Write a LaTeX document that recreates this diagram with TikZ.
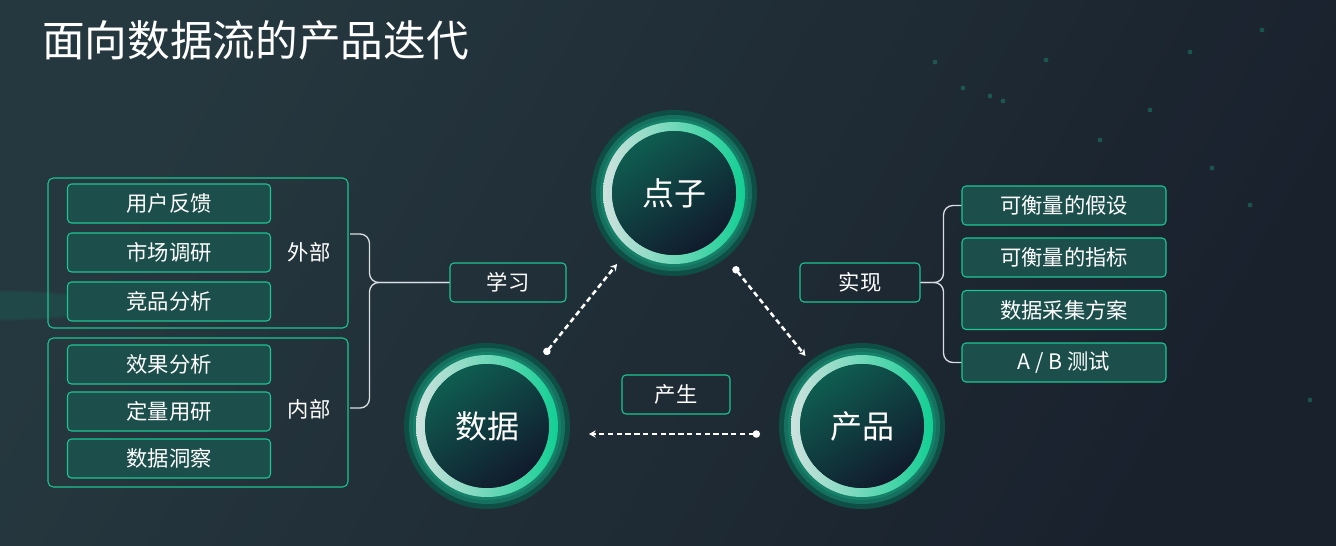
\documentclass[tikz,border=0pt]{standalone}
\usepackage{fontspec}
\setmainfont{Noto Sans CJK SC}
\usetikzlibrary{positioning,calc,arrows.meta,fadings}
\definecolor{bgdark}{HTML}{19212D}
\definecolor{bglight}{HTML}{26383F}
\definecolor{edgegreen}{HTML}{1CC693}
\definecolor{boxfill}{HTML}{1C4F4B}
\definecolor{ringlight}{HTML}{CFE1DE}
\definecolor{ringgreen}{HTML}{12CF93}
\definecolor{haloout}{HTML}{0F4E45}
\definecolor{haloin}{HTML}{15705F}
\definecolor{coretop}{HTML}{0F5D51}
\definecolor{corebot}{HTML}{111A2C}
\definecolor{bracegray}{HTML}{D8DEE2}
\tikzset{
	itembox/.style={draw=edgegreen,fill=boxfill,rounded corners=3pt,line width=0.8pt,minimum width=152.25pt,minimum height=29.25pt,inner sep=0pt,text=white,font=\fontsize{16}{18}\selectfont},
	groupbox/.style={draw=edgegreen,rounded corners=4pt,line width=0.8pt,minimum width=225pt,inner sep=0pt},
	tagbox/.style={draw=edgegreen,rounded corners=3pt,line width=0.8pt,minimum height=29.25pt,inner sep=0pt,text=white,font=\fontsize{16}{18}\selectfont},
	sidelabel/.style={text=white,font=\fontsize{16}{18}\selectfont},
	bubble/.style={circle,minimum size=124.5pt,inner sep=0pt,outer sep=0pt,text=white,font=\fontsize{24}{28}\selectfont},
	brace/.style={draw=bracegray,line width=1pt,rounded corners=7pt},
	flow/.style={white,line width=1.9pt,dash pattern=on 4pt off 2.6pt,{Circle[length=5.5pt]}-{Stealth[length=5pt,width=5.5pt]}}
}
\begin{document}
\begin{tikzpicture}[x=0.75pt,y=-0.75pt]
		% background
		\shade[top color=bglight,bottom color=bgdark,shading angle=60] (0,0) rectangle (1336,546);
		\useasboundingbox (0,0) rectangle (1336,546);
		\fill[haloin,path fading=circle with fuzzy edge 20 percent,opacity=0.3] (0,305) ellipse (110 and 16);
		\foreach \p in {(935,62),(963,88),(990,96),(1003,101),(1046,60),(1100,140),(1190,52),(1262,30),(1250,205),(1310,400),(1150,110),(1212,168)}
			\fill[edgegreen,opacity=0.3] \p circle (1.8pt);
		% title
		\node[anchor=west,inner sep=0pt,text=white,font=\fontsize{32}{36}\selectfont] (title) at (42,40) {面向数据流的产品迭代};
		% circles
		\foreach \p in {(674,193),(487,426),(862,426)} {
			\fill[haloout] \p circle (62.25pt);
			\fill[haloin] \p circle (58.5pt);
			\fill[haloin!80!edgegreen] \p circle (55.5pt);
			\shade[even odd rule,left color=ringlight,right color=ringgreen] \p circle (53.25pt) circle (46.5pt);
			\shade[top color=coretop,bottom color=corebot,shading angle=35] \p circle (46.5pt);
		}
		\node[bubble] (dianzi) at (674,193) {点子};
		\node[bubble] (shuju) at (487,426) {数据};
		\node[bubble] (chanpin) at (862,426) {产品};
		% left groups
		\node[groupbox,minimum height=112.5pt] (waibox) at (198,253) {};
		\node[groupbox,minimum height=111.75pt] (neibox) at (198,412.5) {};
		\node[itembox] (fankui) at (169,203.5) {用户反馈};
		\node[itembox] (diaoyan) at (169,252.5) {市场调研};
		\node[itembox] (jingpin) at (169,301.5) {竞品分析};
		\node[itembox] (xiaoguo) at (169,364.5) {效果分析};
		\node[itembox] (dingliang) at (169,411.5) {定量用研};
		\node[itembox] (dongcha) at (169,458.5) {数据洞察};
		\node[sidelabel] (waibu) at (309,252) {外部};
		\node[sidelabel] (neibu) at (309,409) {内部};
		% tags
		\node[tagbox,minimum width=87pt] (xuexi) at (508,282.5) {学习};
		\node[tagbox,minimum width=90pt] (shixian) at (860,282.5) {实现};
		\node[tagbox,minimum width=81pt] (chansheng) at (676,394.5) {产生};
		% right items
		\node[itembox,minimum width=153pt] (jiashe) at (1064,205.5) {可衡量的假设};
		\node[itembox,minimum width=153pt] (zhibiao) at (1064,257.5) {可衡量的指标};
		\node[itembox,minimum width=153pt] (fangan) at (1064,310) {数据采集方案};
		\node[itembox,minimum width=153pt] (abtest) at (1064,362.5) {A / B 测试};
		% braces
		\coordinate (wtop) at (350,234);
		\coordinate (wbot) at (350,408);
		\draw[brace] (wtop) -| ([xshift=-60pt]xuexi.west) -- (xuexi.west);
		\draw[brace] (wbot) -| ([xshift=-60pt]xuexi.west) -- (xuexi.west);
		\draw[brace] (jiashe.west) -| ([xshift=17.25pt]shixian.east) -- (shixian.east);
		\draw[brace] (abtest.west) -| ([xshift=17.25pt]shixian.east) -- (shixian.east);
		% cycle
		\draw[flow,shorten <=6.75pt,shorten >=6pt] (shuju) -- (dianzi);
		\draw[flow,shorten <=9pt,shorten >=5.25pt] (dianzi) -- (chanpin);
		\draw[flow,shorten <=14.25pt,shorten >=14.25pt] ([yshift=-6pt]chanpin.west) -- ([yshift=-6pt]shuju.east);
	\end{tikzpicture}
\end{document}
